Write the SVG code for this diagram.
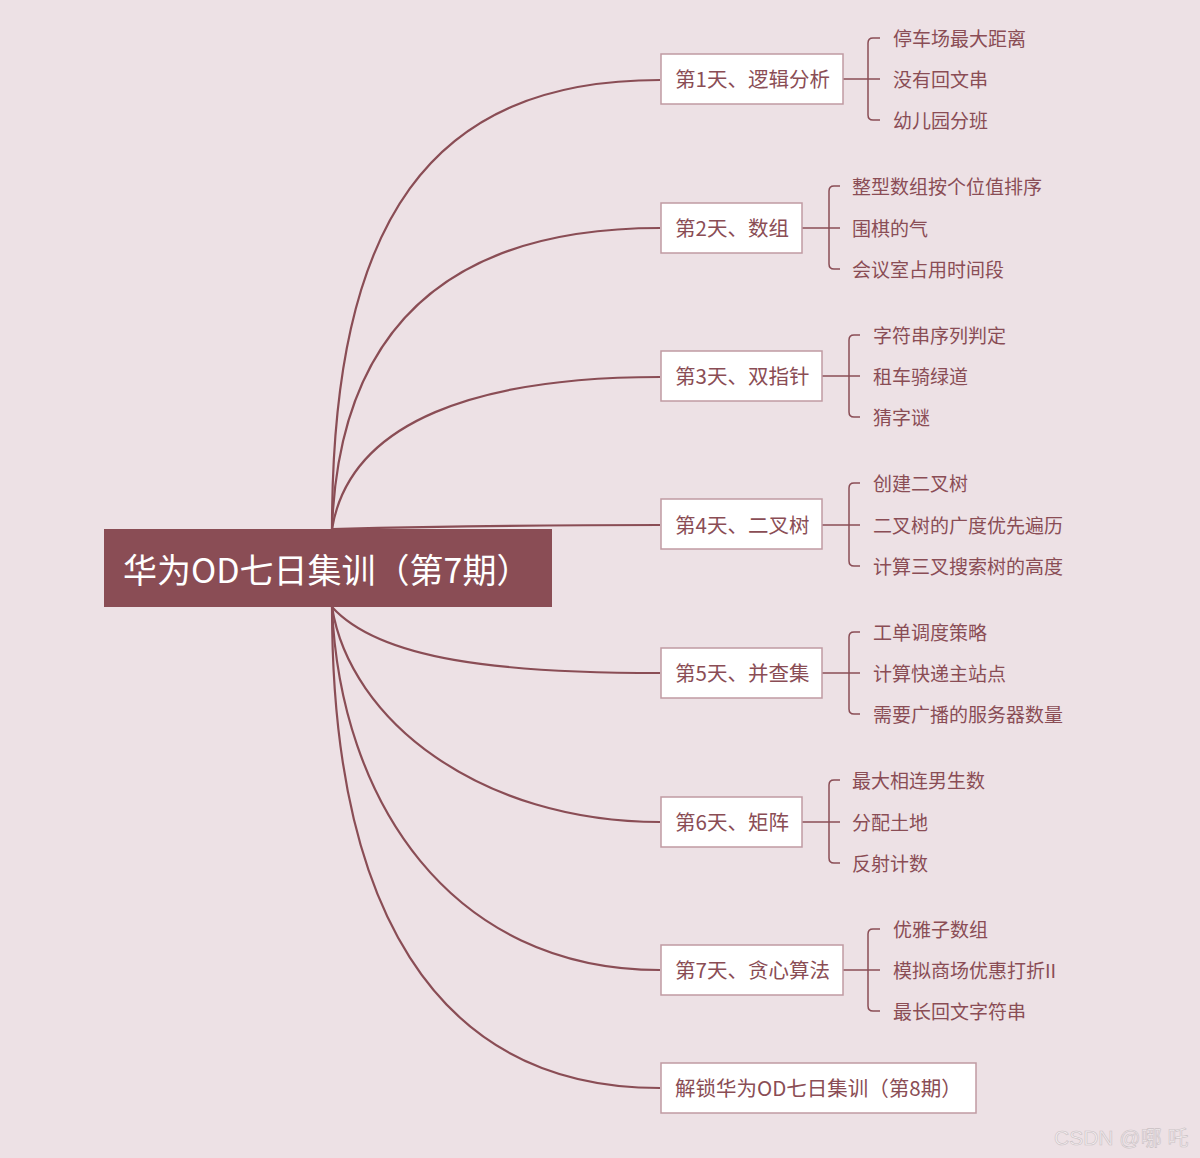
<svg xmlns="http://www.w3.org/2000/svg" width="1200" height="1158" viewBox="0 0 1200 1158">
<defs>
<style>
.bg{fill:#EDE1E5}
.conn{fill:none;stroke:#8A4D55;stroke-width:2.2}
.br{fill:none;stroke:#8A4D55;stroke-width:1.5}
.box{fill:#FFFFFF;stroke:#C09AA2;stroke-width:1.5}
.root{fill:#8A4D55}
.t{font-family:"Noto Sans CJK SC","Liberation Sans",sans-serif;font-size:19px;fill:#8A4D55;dominant-baseline:central}
.bt{font-family:"Noto Sans CJK SC","Liberation Sans",sans-serif;font-size:20.5px;fill:#8A4D55;dominant-baseline:central}
.rt{font-family:"Noto Sans CJK SC","Liberation Sans",sans-serif;font-size:34px;fill:#FFFFFF;dominant-baseline:central}
.wm{font-family:"Liberation Sans","Noto Sans CJK SC",sans-serif;font-size:21px;fill:#F4EEF0;stroke:#C9C0C3;stroke-width:0.6}
</style>
</defs>
<rect class="bg" x="0" y="0" width="1200" height="1158"/>
<g id="connectors">
<path class="conn" d="M332,529 C332,220 430,80 660,80"/>
<path class="conn" d="M332,529 C340,300 480,228 660,228"/>
<path class="conn" d="M332,529 C350,420 480,377 660,377"/>
<path class="conn" d="M332,529 C420,527 520,525 660,525"/>
<path class="conn" d="M332,607 C380,660 500,673 660,673"/>
<path class="conn" d="M332,607 C350,720 480,822 660,822"/>
<path class="conn" d="M332,607 C340,800 450,970 660,970"/>
<path class="conn" d="M332,607 C332,900 430,1088 660,1088"/>
<path class="br" d="M843,79 H880 M880,38 H873 Q868,38 868,43 V115 Q868,120 873,120 H880"/>
<path class="br" d="M802,228 H840 M840,186 H834 Q829,186 829,191 V264 Q829,269 834,269 H840"/>
<path class="br" d="M822,376 H860 M860,335 H854 Q849,335 849,340 V412 Q849,417 854,417 H860"/>
<path class="br" d="M822,525 H860 M860,483 H854 Q849,483 849,488 V561 Q849,566 854,566 H860"/>
<path class="br" d="M822,673 H860 M860,632 H854 Q849,632 849,637 V709 Q849,714 854,714 H860"/>
<path class="br" d="M802,822 H840 M840,780 H834 Q829,780 829,785 V858 Q829,863 834,863 H840"/>
<path class="br" d="M843,970 H880 M880,929 H873 Q868,929 868,934 V1006 Q868,1011 873,1011 H880"/>
</g>
<g id="root">
<rect class="root" x="104" y="529" width="448" height="78"/>
<text class="rt" x="123" y="568">华为OD七日集训（第7期）</text>
</g>
<g id="day1">
<rect class="box" x="661" y="54" width="182" height="50"/>
<text class="bt" x="675" y="78">第1天、逻辑分析</text>
<text class="t" x="893" y="37">停车场最大距离</text>
<text class="t" x="893" y="78">没有回文串</text>
<text class="t" x="893" y="119">幼儿园分班</text>
</g>
<g id="day2">
<rect class="box" x="661" y="203" width="141" height="50"/>
<text class="bt" x="675" y="227">第2天、数组</text>
<text class="t" x="852" y="185">整型数组按个位值排序</text>
<text class="t" x="852" y="227">围棋的气</text>
<text class="t" x="852" y="268">会议室占用时间段</text>
</g>
<g id="day3">
<rect class="box" x="661" y="351" width="161" height="50"/>
<text class="bt" x="675" y="375">第3天、双指针</text>
<text class="t" x="873" y="334">字符串序列判定</text>
<text class="t" x="873" y="375">租车骑绿道</text>
<text class="t" x="873" y="416">猜字谜</text>
</g>
<g id="day4">
<rect class="box" x="661" y="499" width="161" height="50"/>
<text class="bt" x="675" y="524">第4天、二叉树</text>
<text class="t" x="873" y="482">创建二叉树</text>
<text class="t" x="873" y="524">二叉树的广度优先遍历</text>
<text class="t" x="873" y="565">计算三叉搜索树的高度</text>
</g>
<g id="day5">
<rect class="box" x="661" y="648" width="161" height="50"/>
<text class="bt" x="675" y="672">第5天、并查集</text>
<text class="t" x="873" y="631">工单调度策略</text>
<text class="t" x="873" y="672">计算快递主站点</text>
<text class="t" x="873" y="713">需要广播的服务器数量</text>
</g>
<g id="day6">
<rect class="box" x="661" y="797" width="141" height="50"/>
<text class="bt" x="675" y="821">第6天、矩阵</text>
<text class="t" x="852" y="779">最大相连男生数</text>
<text class="t" x="852" y="821">分配土地</text>
<text class="t" x="852" y="862">反射计数</text>
</g>
<g id="day7">
<rect class="box" x="661" y="945" width="182" height="50"/>
<text class="bt" x="675" y="969">第7天、贪心算法</text>
<text class="t" x="893" y="928">优雅子数组</text>
<text class="t" x="893" y="969">模拟商场优惠打折II</text>
<text class="t" x="893" y="1010">最长回文字符串</text>
</g>
<g id="day8">
<rect class="box" x="661" y="1063" width="315" height="50"/>
<text class="bt" x="675" y="1087">解锁华为OD七日集训（第8期）</text>
</g>
<text class="wm" x="1054" y="1145">CSDN @哪 吒</text>
</svg>
